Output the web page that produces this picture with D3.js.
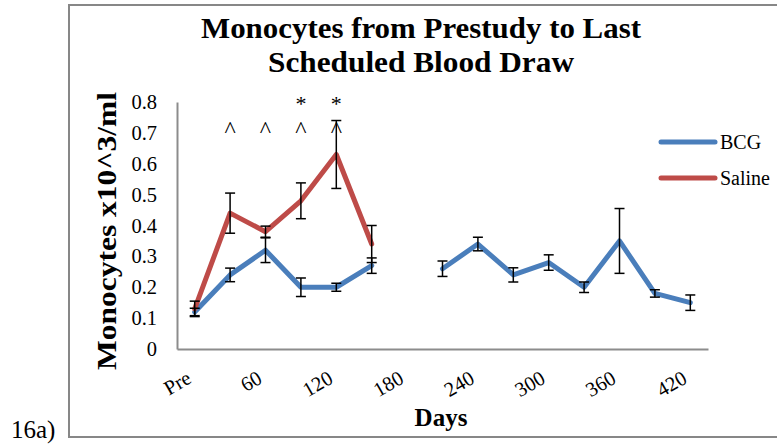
<!DOCTYPE html>
<html>
<head>
<meta charset="utf-8">
<script src="https://cdn.jsdelivr.net/npm/d3@7"></script>
<style>
    html, body { margin: 0; padding: 0; background: #fff; }
    svg { display: block; font-family: "Liberation Serif", "Times New Roman", serif; }
</style>
</head>
<body>
<div id="chart"></div>
<script>
// categories (days), only every other one gets a label
const days = ["Pre", "30", "60", "90", "120", "150", "180", "210", "240", "270", "300", "330", "360", "390", "420"];
const tickLabels = ["Pre", "60", "120", "180", "240", "300", "360", "420"];
const yTicks = [0, 0.1, 0.2, 0.3, 0.4, 0.5, 0.6, 0.7, 0.8];

// series values (x10^3/ml), null = no draw
const bcgMean = [0.12, 0.24, 0.32, 0.20, 0.20, 0.27, null, 0.26, 0.34, 0.24, 0.28, 0.20, 0.35, 0.18, 0.15];
const bcgErr = [0.012, 0.022, 0.04, 0.03, 0.013, 0.025, null, 0.025, 0.022, 0.023, 0.025, 0.017, 0.105, 0.012, 0.025];
const salineMean = [0.13, 0.44, 0.38, 0.48, 0.63, 0.34, null, null, null, null, null, null, null, null, null];
const salineErr = [0.025, 0.065, 0.018, 0.058, 0.11, 0.06, null, null, null, null, null, null, null, null, null];

// significance marks above the points
const caretDays = ["30", "60", "90", "120"];
const starDays = ["90", "120"];
const caretLevel = 0.687;
const starLevel = 0.772;

const width = 777, height = 445;
const plot = { l: 177, r: 708, t: 102, b: 349 };

const series = [
    { name: "BCG", color: "#4A7EBB", mean: bcgMean, err: bcgErr },
    { name: "Saline", color: "#BE4B48", mean: salineMean, err: salineErr }
];

const x = d3.scaleBand()
    .domain(days)
    .range([plot.l, plot.r]);

const cx = d => x(d) + x.bandwidth() / 2;

const y = d3.scaleLinear()
    .domain([0, 0.8])
    .range([plot.b, plot.t]);

const svg = d3.select("#chart")
    .append("svg")
    .attr("width", width)
    .attr("height", height)
    .attr("viewBox", `0 0 ${width} ${height}`);

// chart frame
svg.append("rect")
    .attr("x", 69)
    .attr("y", 5)
    .attr("width", 720)
    .attr("height", 432)
    .attr("fill", "none")
    .attr("stroke", "#878787")
    .attr("stroke-width", 2);

svg.append("text")
    .attr("x", 11)
    .attr("y", 438)
    .style("font-size", "25px")
    .text("16a)");

// title
const titleLines = ["Monocytes from Prestudy to Last", "Scheduled Blood Draw"];
const titleWidths = [440, 306];

svg.append("g")
    .selectAll("text")
    .data(titleLines)
    .join("text")
    .attr("x", 421)
    .attr("y", (d, i) => 38 + i * 34)
    .attr("text-anchor", "middle")
    .attr("textLength", (d, i) => titleWidths[i])
    .attr("lengthAdjust", "spacingAndGlyphs")
    .style("font-size", "29px")
    .style("font-weight", "bold")
    .text(d => d);

// axes
const yAxis = d3.axisLeft(y)
    .tickValues(yTicks)
    .tickSize(0)
    .tickPadding(20)
    .tickFormat(d => d === 0 ? "0" : d3.format(".1f")(d));

const yAxisG = svg.append("g")
    .attr("transform", `translate(${plot.l}, 0)`)
    .call(yAxis);

yAxisG.select(".domain").attr("stroke", "#8c8c8c").attr("stroke-width", 2);
yAxisG.selectAll("text")
    .style("font-family", "Liberation Serif, serif")
    .style("font-size", "20.5px")
    .attr("fill", "#000");

const xAxis = d3.axisBottom(x)
    .tickValues(days.filter(d => tickLabels.includes(d)))
    .tickSize(0)
    .tickFormat("");

const xAxisG = svg.append("g")
    .attr("transform", `translate(0, ${plot.b})`)
    .call(xAxis);

xAxisG.select(".domain").attr("stroke", "#8c8c8c").attr("stroke-width", 2);

svg.append("g")
    .selectAll("text")
    .data(tickLabels)
    .join("text")
    .attr("text-anchor", "end")
    .attr("transform", d => `translate(${cx(d) - 2}, ${plot.b + 33}) rotate(-30)`)
    .style("font-size", "20.5px")
    .text(d => d);

svg.append("text")
    .attr("x", 441)
    .attr("y", 426)
    .attr("text-anchor", "middle")
    .style("font-size", "25px")
    .style("font-weight", "bold")
    .text("Days");

svg.append("text")
    .attr("transform", `translate(116, 231) rotate(-90)`)
    .attr("text-anchor", "middle")
    .attr("textLength", 278)
    .attr("lengthAdjust", "spacingAndGlyphs")
    .style("font-size", "28px")
    .style("font-weight", "bold")
    .text("Monocytes x10^3/ml");

// lines
const line = d3.line()
    .defined(d => d.v != null)
    .x(d => cx(d.day))
    .y(d => y(d.v));

const seriesG = svg.append("g")
    .selectAll("g")
    .data(series)
    .join("g");

seriesG.append("path")
    .attr("fill", "none")
    .attr("stroke", s => s.color)
    .attr("stroke-width", 5)
    .attr("stroke-linejoin", "round")
    .attr("stroke-linecap", "round")
    .attr("d", s => line(s.mean.map((v, i) => ({ day: days[i], v }))));

// error bars, drawn on top of lines
const capHalf = 5;
const bars = series.flatMap(s => s.mean
    .map((v, i) => ({ day: days[i], v, e: s.err[i] }))
    .filter(d => d.v != null));

const barG = svg.append("g")
    .selectAll("g")
    .data(bars)
    .join("g")
    .attr("stroke", "#000")
    .attr("stroke-width", 1.5);

barG.append("line")
    .attr("x1", d => cx(d.day))
    .attr("x2", d => cx(d.day))
    .attr("y1", d => y(d.v - d.e))
    .attr("y2", d => y(d.v + d.e));

barG.append("line")
    .attr("x1", d => cx(d.day) - capHalf)
    .attr("x2", d => cx(d.day) + capHalf)
    .attr("y1", d => y(d.v + d.e))
    .attr("y2", d => y(d.v + d.e));

barG.append("line")
    .attr("x1", d => cx(d.day) - capHalf)
    .attr("x2", d => cx(d.day) + capHalf)
    .attr("y1", d => y(d.v - d.e))
    .attr("y2", d => y(d.v - d.e));

// significance marks
svg.append("g")
    .selectAll("text")
    .data(caretDays.map(day => ({ day, s: "^", level: caretLevel, size: 24 }))
        .concat(starDays.map(day => ({ day, s: "*", level: starLevel, size: 22 }))))
    .join("text")
    .attr("x", d => cx(d.day))
    .attr("y", d => y(d.level))
    .attr("text-anchor", "middle")
    .style("font-size", d => `${d.size}px`)
    .text(d => d.s);

// legend
const legend = svg.append("g")
    .selectAll("g")
    .data(series)
    .join("g")
    .attr("transform", (d, i) => `translate(661, ${142 + i * 36})`);

legend.append("line")
    .attr("x1", 0)
    .attr("x2", 54)
    .attr("stroke", d => d.color)
    .attr("stroke-width", 5)
    .attr("stroke-linecap", "round");

legend.append("text")
    .attr("x", 59)
    .attr("dy", "0.33em")
    .style("font-size", "20px")
    .text(d => d.name);
</script>
</body>
</html>
